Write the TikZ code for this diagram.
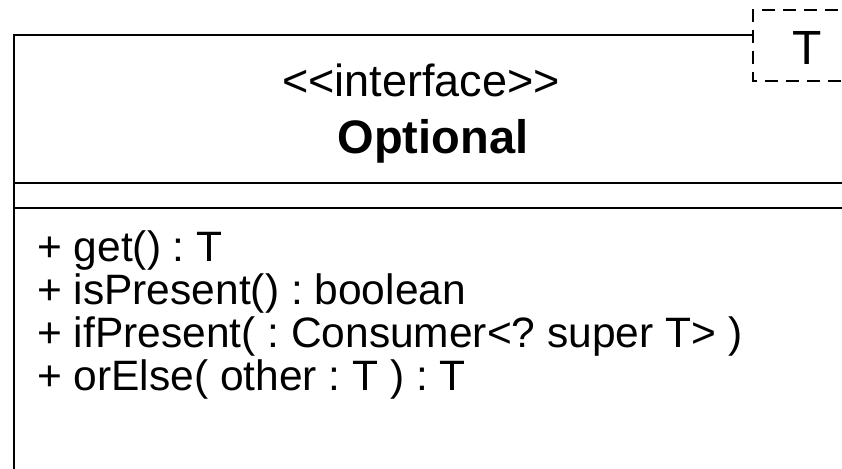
\documentclass[tikz,border=0pt]{standalone}
\usepackage{fontspec}
% plain family: no TeX ligatures, so << and >> stay as typed
\newfontfamily\umlfont{Liberation Sans}
\begin{document}
\frenchspacing
\begin{tikzpicture}[x=1pt,y=-1pt,
  umlline/.style={draw=black, line width=2pt},
  tparam/.style={draw=black, line width=2pt, dash pattern=on 13pt off 8pt},
  title/.style={font=\umlfont\fontsize{45}{45}\selectfont, anchor=base, inner sep=0pt},
  member/.style={font=\umlfont\fontsize{42.5}{43}\selectfont, anchor=base west, inner sep=0pt}]
\useasboundingbox (0,0) rectangle (842,468);
\fill[white] (0,0) rectangle (842,468);
\clip (0,0) rectangle (842,468);

% class box (continues past the right and bottom edges)
\coordinate (tl) at (14,35);
\coordinate (tr) at (753,35);
\coordinate (bl) at (14,490);
\draw[umlline] (tr) -- (tl) -- (bl);
\coordinate (d1l) at (14,183);
\coordinate (d1r) at (870,183);
\coordinate (d2l) at (14,208);
\coordinate (d2r) at (870,208);
\draw[umlline] (d1l) -- (d1r);
\draw[umlline] (d2l) -- (d2r);

% template parameter box
\coordinate (ta) at (880,10);
\coordinate (tb) at (753,10);
\coordinate (tc) at (753,81);
\coordinate (td) at (880,81);
\draw[tparam] (ta) -- (tb) -- (tc) -- (td);
\node[title, font=\umlfont\fontsize{48}{48}\selectfont, anchor=base west] (tparamT) at (792,65) {T};

% header
\node[title] (stereo) at (421,97) {<<interface>>};
\node[title, font=\umlfont\bfseries\fontsize{47}{47}\selectfont] (name) at (433,153) {Optional};

% operations
\node[member] (op1) at (37,261) {+ get() : T};
\node[member] (op2) at (37,304) {+ isPresent() : boolean};
\node[member] (op3) at (37,347) {+ ifPresent( : Consumer<? super T> )};
\node[member] (op4) at (37,390) {+ orElse( other : T ) : T};
\end{tikzpicture}
\end{document}
